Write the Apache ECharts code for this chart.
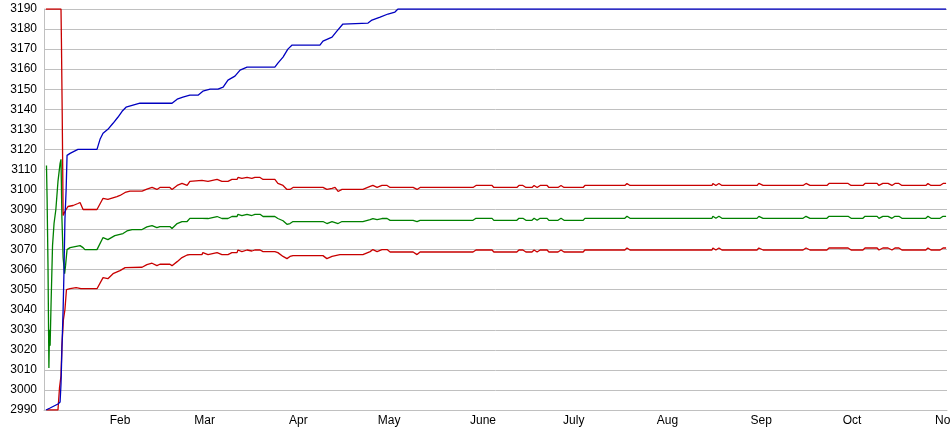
<!DOCTYPE html>
<html>
<head>
<meta charset="utf-8">
<script src="https://cdn.jsdelivr.net/npm/echarts@6/dist/echarts.min.js"></script>
<style>
html,body{margin:0;padding:0;background:#fff;}
#chart{width:950px;height:435px;}
</style>
</head>
<body>
<div id="chart"></div>
<script>
// x values are day-of-year (Jan 1 = 0)
var monthDays = [31, 59, 90, 120, 151, 181, 212, 243, 273, 304];
var monthLabels = ['Feb', 'Mar', 'Apr', 'May', 'June', 'July', 'Aug', 'Sep', 'Oct', 'Nov'];
var yTicksMin = 2990, yTicksMax = 3190, yStep = 10;

var upperRed = [
  [6.5,3190],[11.5,3190],[11.65,3173],[11.9,3138],[12.2,3087],[12.8,3089],[13.8,3091.5],[15.5,3092],
  [17.1,3093],[17.8,3093.5],[18.8,3090],[23.4,3090],[25.4,3095.6],[27.0,3095],[30.0,3096.4],[31.0,3097],
  [32.7,3098.5],[34.3,3099.2],[38.3,3099.2],[39.9,3100.2],[41.6,3101],[43.2,3100],[44.2,3101],[47.5,3101],
  [48.2,3100],[49.9,3102],[51.5,3103],[53.2,3102],[54.1,3104],[58.1,3104.5],[58.4,3105],[60.1,3104],
  [63.1,3105],[64.7,3104],[66.7,3104],[68.0,3105],[69.7,3105],[70.0,3106],[71.3,3105.5],[73.0,3106],
  [74.6,3105.5],[75.6,3106],[77.3,3106],[78.3,3105],[82.2,3105],[83.2,3103],[84.9,3102],[86.2,3100],
  [87.2,3100],[88.2,3101],[98.1,3101],[99.4,3100],[101.1,3100.5],[102.1,3101],[103.1,3099],[104.4,3100],
  [111.3,3100],[113.7,3101.5],[114.6,3102],[116.0,3101],[117.6,3102],[119.3,3102],[120.3,3101],[127.9,3101],
  [129.2,3100],[130.2,3101],[147.7,3101],[148.7,3102],[154.0,3102],[154.6,3101],[162.2,3101],[162.9,3102],
  [164.2,3102],[165.2,3101],[167.2,3101],[167.9,3102],[168.9,3101],[169.9,3102],[172.2,3102],[172.8,3101],
  [175.8,3101],[176.8,3102],[177.8,3101],[184.1,3101],[184.7,3102],[197.9,3102],[198.6,3103],[199.6,3102],
  [226.7,3102],[227.0,3103],[228.0,3102],[229.0,3103],[230.0,3102],[241.6,3102],[242.2,3103],[243.6,3102],
  [256.8,3102],[257.8,3103],[259.1,3102],[264.7,3102],[265.4,3103],[271.7,3103],[272.7,3102],[276.6,3102],
  [277.3,3103],[281.3,3103],[281.9,3102],[283.2,3103],[284.9,3103],[286.2,3102],[287.2,3103],[288.5,3103],
  [289.5,3102],[297.4,3102],[298.1,3103],[299.1,3102],[302.1,3102],[303.1,3103],[304.1,3103]
];

var middleGreen = [
  [6.7,3112],[6.9,3096],[7.2,3062],[7.5,3011],[7.7,3030],[7.9,3022],[8.2,3042],[8.5,3060],[8.7,3072],
  [9.2,3083],[9.8,3090],[10.2,3098],[10.5,3104],[11.2,3113],[11.5,3115],[11.8,3086],[12.2,3066],[12.7,3058],
  [13.0,3062],[13.5,3070],[14.5,3071],[17.8,3072],[18.8,3071],[19.4,3070],[23.4,3070],[25.4,3076],
  [27.0,3075],[29.3,3077],[32.0,3078],[33.3,3079.3],[35.0,3080],[38.3,3080],[39.9,3081.3],[41.6,3082],
  [43.2,3081],[44.2,3081.5],[47.5,3081.5],[48.2,3080.5],[49.9,3083],[51.5,3084],[53.2,3084],[54.1,3085.6],
  [58.1,3085.6],[58.4,3086.5],[60.1,3085.5],[63.1,3086.5],[64.7,3085.5],[66.7,3085.5],[68.0,3086.5],
  [69.7,3086.5],[70.0,3087.6],[71.3,3087],[73.0,3087.6],[74.6,3087],[75.6,3087.6],[77.3,3087.6],[78.3,3086.5],
  [82.2,3086.5],[83.2,3085.5],[84.9,3084.4],[86.2,3082.6],[87.2,3083],[88.2,3084],[98.1,3084],[99.4,3083],
  [101.1,3084],[102.1,3083.5],[103.1,3083],[104.4,3084],[111.3,3084],[113.7,3085],[114.6,3085.5],[116.0,3085],
  [117.6,3085.5],[119.3,3085.5],[120.3,3084.6],[127.9,3084.6],[129.2,3084],[130.2,3084.6],[147.7,3084.6],
  [148.7,3085.6],[154.0,3085.6],[154.6,3084.6],[162.2,3084.6],[162.9,3085.6],[164.2,3085.6],[165.2,3084.6],
  [167.2,3084.6],[167.9,3085.6],[168.9,3084.6],[169.9,3085.6],[172.2,3085.6],[172.8,3084.6],[175.8,3084.6],
  [176.8,3085.6],[177.8,3084.6],[184.1,3084.6],[184.7,3085.6],[197.9,3085.6],[198.6,3086.6],[199.6,3085.6],
  [226.7,3085.6],[227.0,3086.6],[228.0,3085.6],[229.0,3086.6],[230.0,3085.6],[241.6,3085.6],[242.2,3086.6],
  [243.6,3085.6],[256.8,3085.6],[257.8,3086.6],[259.1,3085.6],[264.7,3085.6],[265.4,3086.6],[271.7,3086.6],
  [272.7,3085.6],[276.6,3085.6],[277.3,3086.6],[281.3,3086.6],[281.9,3085.6],[283.2,3086.6],[284.9,3086.6],
  [286.2,3085.6],[287.2,3086.6],[288.5,3086.6],[289.5,3085.6],[297.4,3085.6],[298.1,3086.6],[299.1,3085.6],
  [302.1,3085.6],[303.1,3086.6],[304.1,3086.6]
];

var lowerRed = [
  [6.7,2990],[10.5,2990],[11.0,3001],[11.5,3007],[11.8,3022],[12.3,3035],[12.8,3040],[13.3,3050],
  [14.5,3050.5],[16.5,3051],[17.1,3051.5],[18.1,3050.5],[23.4,3050.5],[25.4,3056],[27.0,3055.5],[28.7,3058],
  [31.0,3059.5],[32.7,3061],[38.3,3061.2],[39.9,3062.5],[41.6,3063.2],[43.2,3062],[44.2,3062.7],[47.5,3062.7],
  [48.2,3062],[49.9,3064],[51.5,3066],[53.2,3067.3],[54.1,3067.5],[58.1,3067.5],[58.4,3068.5],[60.1,3067.5],
  [63.1,3068.5],[64.7,3067.5],[66.7,3067.5],[68.0,3068.5],[69.7,3068.5],[70.0,3069.8],[71.3,3069],[73.0,3069.8],
  [74.6,3069.3],[75.6,3069.8],[77.3,3069.8],[78.3,3069],[82.2,3069],[83.2,3068.5],[84.9,3066.6],[86.2,3065.5],
  [87.2,3066.6],[88.2,3067],[98.1,3067],[99.4,3065.5],[101.1,3066.6],[103.7,3067.5],[111.3,3067.5],[113.7,3069],
  [114.6,3070],[116.0,3069],[117.6,3070],[119.3,3070],[120.3,3068.8],[127.9,3068.8],[129.2,3067.5],[130.2,3068.8],
  [147.7,3068.8],[148.7,3069.8],[154.0,3069.8],[154.6,3068.8],[162.2,3068.8],[162.9,3069.8],[164.2,3069.8],
  [165.2,3068.8],[167.2,3068.8],[167.9,3069.8],[168.9,3068.8],[169.9,3069.8],[172.2,3069.8],[172.8,3068.8],
  [175.8,3068.8],[176.8,3069.8],[177.8,3068.8],[184.1,3068.8],[184.7,3069.8],[197.9,3069.8],[198.6,3070.8],
  [199.6,3069.8],[226.7,3069.8],[227.0,3070.8],[228.0,3069.8],[229.0,3070.8],[230.0,3069.8],[241.6,3069.8],
  [242.2,3070.8],[243.6,3069.8],[256.8,3069.8],[257.8,3070.8],[259.1,3069.8],[264.7,3069.8],[265.4,3070.8],
  [271.7,3070.8],[272.7,3069.8],[276.6,3069.8],[277.3,3070.8],[281.3,3070.8],[281.9,3069.8],[283.2,3070.8],
  [284.9,3070.8],[286.2,3069.8],[287.2,3070.8],[288.5,3070.8],[289.5,3069.8],[297.4,3069.8],[298.1,3070.8],
  [299.1,3069.8],[302.1,3069.8],[303.1,3070.8],[304.1,3070.8]
];

var blueLine = [
  [6.5,2990],[7.9,2991],[9.2,2992],[10.5,2993],[11.2,2994],[11.5,3003],[11.8,3020],[12.2,3040],[12.5,3060],
  [12.8,3085],[13.2,3100],[13.5,3117],[14.5,3118],[15.8,3119],[17.1,3120],[23.4,3120],[24.4,3125],[25.4,3128],
  [27.0,3130],[28.7,3133],[30.3,3136],[31.7,3139],[33.0,3141],[35.3,3142],[37.6,3143],[48.2,3143],[49.9,3145],
  [51.8,3146],[54.1,3147],[56.8,3147],[58.4,3149],[60.8,3150],[63.4,3150],[65.1,3151],[66.7,3154.5],[69.0,3156.5],
  [70.7,3159.5],[73.0,3161],[82.2,3161],[83.2,3163],[84.9,3166],[86.5,3170],[87.9,3172],[97.1,3172],[98.1,3174],
  [101.1,3176],[102.7,3179],[104.7,3182.5],[113.0,3183],[114.3,3184.5],[117.0,3186],[119.6,3187.5],[121.9,3188.5],
  [122.9,3190],[304.1,3190]
];

var chart = echarts.init(document.getElementById('chart'), null, {renderer: 'canvas'});
function lineSeries(name, data, color) {
  return {
    name: name, type: 'line', data: data, showSymbol: false, symbol: 'none',
    lineStyle: {color: color, width: 1.3}, itemStyle: {color: color},
    animation: false, silent: true
  };
}
chart.setOption({
  animation: false,
  backgroundColor: '#ffffff',
  grid: {left: 44, right: 3, top: 9, bottom: 25, containLabel: false, outerBoundsMode: 'none'},
  xAxis: {
    type: 'value', min: 5.88, max: 304.4,
    splitLine: {show: false},
    axisTick: {show: false},
    axisLine: {show: true, lineStyle: {color: '#c0c0c0', width: 1}},
    axisLabel: {
      customValues: monthDays,
      formatter: function (v) {
        var i = monthDays.indexOf(Math.round(v));
        return i >= 0 ? monthLabels[i] : '';
      },
      color: '#000', fontSize: 12, fontFamily: 'Liberation Sans, Arial, sans-serif', margin: 5,
      hideOverlap: false
    }
  },
  yAxis: {
    type: 'value', min: yTicksMin, max: yTicksMax, interval: yStep,
    axisTick: {show: false},
    axisLine: {show: true, lineStyle: {color: '#c0c0c0', width: 1}},
    splitLine: {show: true, lineStyle: {color: '#c0c0c0', width: 1}},
    axisLabel: {
      color: '#000', fontSize: 12, fontFamily: 'Liberation Sans, Arial, sans-serif', margin: 7,
      formatter: function (v) { return String(v); }
    }
  },
  series: [
    lineSeries('Lower', lowerRed, '#c80000'),
    lineSeries('Middle', middleGreen, '#008000'),
    lineSeries('Upper', upperRed, '#c80000'),
    lineSeries('Blue', blueLine, '#0000c0')
  ]
});
</script>
</body>
</html>
